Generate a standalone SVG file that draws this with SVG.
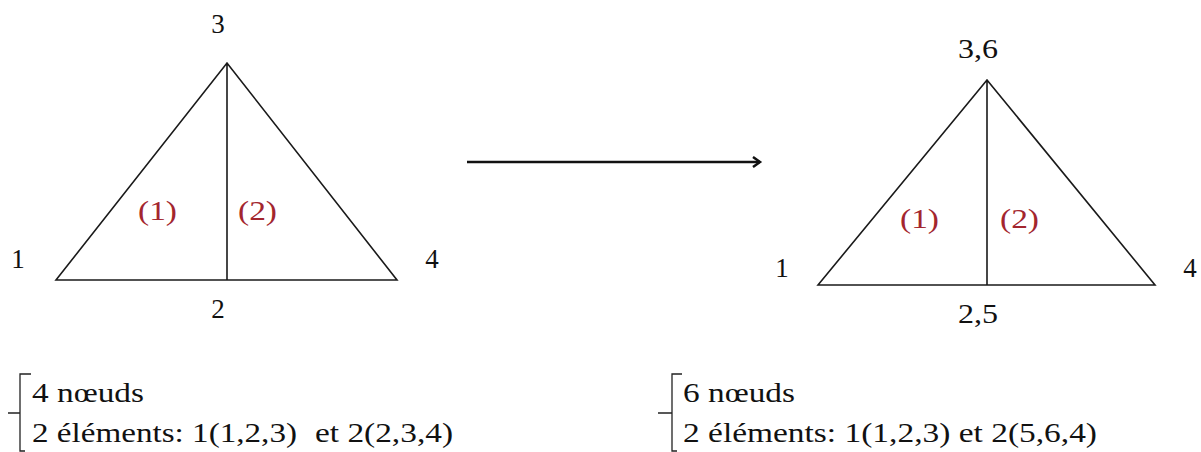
<svg xmlns="http://www.w3.org/2000/svg" width="1201" height="452" viewBox="0 0 1201 452">
<style>
text{font-family:'Liberation Serif','DejaVu Serif','Times New Roman',serif}
.t{font-size:27px;fill:#111}
.r{font-size:27px;fill:#a3262e}
.s{font-size:28px;fill:#111}
.e{fill:none;stroke:#1a1a1a;stroke-width:1.6}
.b{fill:none;stroke:#222;stroke-width:1.3}
</style>
<defs>
<marker id="ah" markerWidth="12" markerHeight="12" refX="9" refY="6" orient="auto" markerUnits="userSpaceOnUse">
<path d="M2,1 L9,6 L2,11" fill="none" stroke="#111" stroke-width="2.5"/>
</marker>
</defs>
<rect width="1201" height="452" fill="#fff"/>
<g id="mesh-left">
<path class="e" d="M56,280 L227,63 L397,280 Z M227,63 L227,280"/>
<text class="t" x="218" y="33" text-anchor="middle">3</text>
<text class="t" x="18" y="268" text-anchor="middle">1</text>
<text class="t" x="432" y="268" text-anchor="middle">4</text>
<text class="t" x="218" y="318" text-anchor="middle">2</text>
<text class="r" x="138" y="220" textLength="39" lengthAdjust="spacingAndGlyphs">(1)</text>
<text class="r" x="238" y="220" textLength="39" lengthAdjust="spacingAndGlyphs">(2)</text>
</g>
<g id="mesh-right">
<path class="e" d="M818,285 L987,80 L1155,285 Z M987,80 L987,285"/>
<text class="t" x="958" y="58" textLength="40" lengthAdjust="spacingAndGlyphs">3,6</text>
<text class="t" x="782" y="277" text-anchor="middle">1</text>
<text class="t" x="1190" y="277" text-anchor="middle">4</text>
<text class="t" x="958" y="323" textLength="40" lengthAdjust="spacingAndGlyphs">2,5</text>
<text class="r" x="900" y="228" textLength="39" lengthAdjust="spacingAndGlyphs">(1)</text>
<text class="r" x="1000" y="228" textLength="39" lengthAdjust="spacingAndGlyphs">(2)</text>
</g>
<g id="connectors">
<line x1="467" y1="162" x2="760" y2="162" stroke="#111" stroke-width="2.6" marker-end="url(#ah)"/>
</g>
<g id="summary-left">
<path class="b" d="M31,374 L20,374 L20,451 L25,451 M8,413 L20,413"/>
<text class="s" x="32" y="402" textLength="112" lengthAdjust="spacingAndGlyphs">4 nœuds</text>
<text class="s" x="32" y="442" textLength="265" lengthAdjust="spacingAndGlyphs">2 éléments: 1(1,2,3)</text>
<text class="s" x="315" y="442" textLength="138" lengthAdjust="spacingAndGlyphs">et 2(2,3,4)</text>
</g>
<g id="summary-right">
<path class="b" d="M682,374 L672,374 L672,451 L677,451 M658,413 L672,413"/>
<text class="s" x="683" y="402" textLength="112" lengthAdjust="spacingAndGlyphs">6 nœuds</text>
<text class="s" x="683" y="442" textLength="414" lengthAdjust="spacingAndGlyphs">2 éléments: 1(1,2,3) et 2(5,6,4)</text>
</g>
</svg>
